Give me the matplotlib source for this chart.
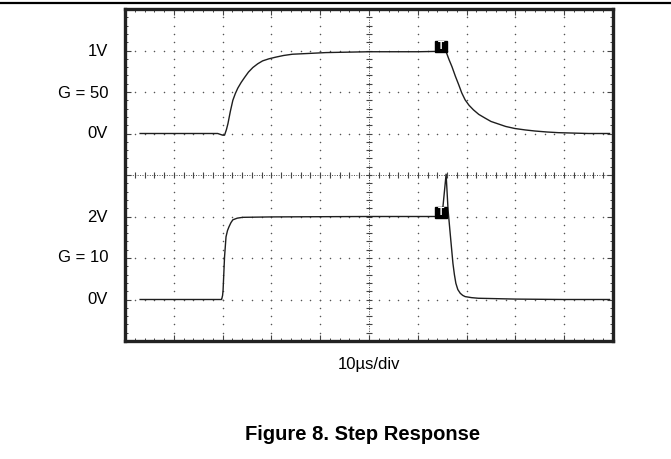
import numpy as np
import matplotlib
matplotlib.use("Agg")
import matplotlib.pyplot as plt
from matplotlib.lines import Line2D
from matplotlib.patches import Rectangle

plt.rcParams['font.family'] = ['Liberation Sans', 'DejaVu Sans']

# ---- data (time in µs, voltage in V) ----
top_t = [3.1, 8, 14, 19.0, 20.0, 20.4, 20.8, 21.1, 21.6, 22.1, 22.6, 23.1, 23.8,
         24.5, 25.3, 26.2, 27.2, 28.2, 29.5, 30.9, 32.5, 34.3, 37.8, 41.2, 50,
         60, 64.8, 65.8, 66.4, 67.0, 67.7, 68.4, 69.0, 69.7, 70.5, 71.4, 72.5,
         73.8, 75.0, 76.5, 78.0, 79.9, 82.0, 84.0, 86.5, 88.8, 95, 99.3]
top_v = [0, 0, 0, 0, -0.02, -0.02, 0.05, 0.12, 0.27, 0.40, 0.48, 0.545, 0.615,
         0.675, 0.74, 0.795, 0.84, 0.875, 0.90, 0.92, 0.94, 0.955, 0.965, 0.975,
         0.985, 0.985, 0.99, 0.985, 0.89, 0.805, 0.69, 0.585, 0.49, 0.405, 0.34,
         0.285, 0.23, 0.185, 0.145, 0.115, 0.085, 0.06, 0.043, 0.03, 0.018, 0.01,
         0.0, 0.0]

bot_t = [3.1, 10, 19.7, 19.8, 20.0, 20.1, 20.4, 20.7, 21.0, 21.3, 21.7, 22.1,
         23.0, 24.1, 30, 50, 63.7, 65.0, 65.8, 66.2, 66.7, 67.2, 67.5, 67.8,
         68.2, 68.7, 69.2, 69.7, 71.0, 72.4, 80, 90, 99.3]
bot_v = [0, 0, 0, 0, 0.1, 0.23, 1.03, 1.51, 1.66, 1.75, 1.85, 1.92, 1.96, 1.98,
         1.99, 2.0, 2.0, 2.05, 3.02, 2.16, 1.51, 0.87, 0.6, 0.39, 0.24, 0.15,
         0.1, 0.07, 0.045, 0.03, 0.01, 0.0, 0.0]

trigger_t = 63.6
top_labels = ["1V", "G = 50", "0V"]
bot_labels = ["2V", "G = 10", "0V"]
x_label = "10µs/div"
title = "Figure 8. Step Response"

# screen mapping: 10 x-divs (10 µs/div), 8 y-divs
top_zero, top_scale = 5.0, 2.0   # div offset, div per volt
bot_zero, bot_scale = 1.0, 1.0

W, H = 671, 459
fig = plt.figure(figsize=(W / 100, H / 100), dpi=100)
ax = fig.add_axes([125 / W, 1 - 341 / H, (613 - 125) / W, (341 - 9) / H])
ax.set_xlim(0, 100)
ax.set_ylim(0, 8)

dot_c = '#555555'
# dotted grid
ys = np.arange(0, 8.001, 0.2)
xs = np.arange(0, 100.001, 2)
for gx in range(10, 100, 10):
    if gx == 50:
        continue
    ax.plot([gx] * len(ys), ys, ls='none', marker='o', ms=1.1, color=dot_c, mew=0)
for gy in range(1, 8):
    if gy == 4:
        continue
    ax.plot(xs, [gy] * len(xs), ls='none', marker='o', ms=1.1, color=dot_c, mew=0)

# center crosshair with ticks
ax.plot([50, 50], [0, 8], ls=(0, (1, 1.5)), lw=0.7, color='#444444')
ax.plot([0, 100], [4, 4], ls=(0, (1, 1.5)), lw=0.7, color='#444444')
ax.plot([50] * len(ys), ys, ls='none', marker='_', ms=5, mew=0.8, color='#444444')
ax.plot(xs, [4] * len(xs), ls='none', marker='|', ms=5, mew=0.8, color='#444444')

# frame ticks
ax.set_xticks(np.arange(0, 101, 10))
ax.set_xticks(np.arange(0, 101, 2), minor=True)
ax.set_yticks(np.arange(0, 9, 1))
ax.set_yticks(np.arange(0, 8.01, 0.2), minor=True)
ax.tick_params(which='both', direction='in', top=True, right=True,
               labelbottom=False, labelleft=False, color='#444444')
ax.tick_params(which='major', length=4, width=0.8)
ax.tick_params(which='minor', length=2.5, width=0.7)
for s in ax.spines.values():
    s.set_linewidth(2.4)
    s.set_color('#222222')

# traces
trace_c = '#1e1e1e'
ax.plot(top_t, [top_zero + top_scale * v for v in top_v], color=trace_c, lw=1.0)
ax.plot(bot_t, [bot_zero + bot_scale * v for v in bot_v], color=trace_c, lw=1.0)

# trigger markers
for lvl in (top_zero + top_scale * 1.0, bot_zero + bot_scale * 2.0):
    ax.add_patch(Rectangle((trigger_t, lvl - 0.03), 2.3, 0.27, facecolor='black',
                           edgecolor='black', zorder=5))
    ax.text(trigger_t + 1.15, lvl + 0.1, "T", color='white', fontsize=7.5,
            fontweight='bold', ha='center', va='center', zorder=6)

# labels
lx = 108 / W
fs = 12
for txt, yp in zip(top_labels, (52, 93, 134)):
    fig.text(lx, 1 - yp / H, txt, ha='right', va='center', fontsize=fs)
for txt, yp in zip(bot_labels, (217, 257, 299)):
    fig.text(lx, 1 - yp / H, txt, ha='right', va='center', fontsize=fs)

fig.text(368.5 / W, 1 - 365 / H, x_label, ha='center', va='center', fontsize=fs)
fig.text(362.5 / W, 1 - 435 / H, title, ha='center', va='center', fontsize=14.5,
         fontweight='bold')

fig.add_artist(Line2D([0, 1], [1 - 3 / H] * 2, color='black', lw=1.6))

fig.savefig("out.png", dpi=100)
